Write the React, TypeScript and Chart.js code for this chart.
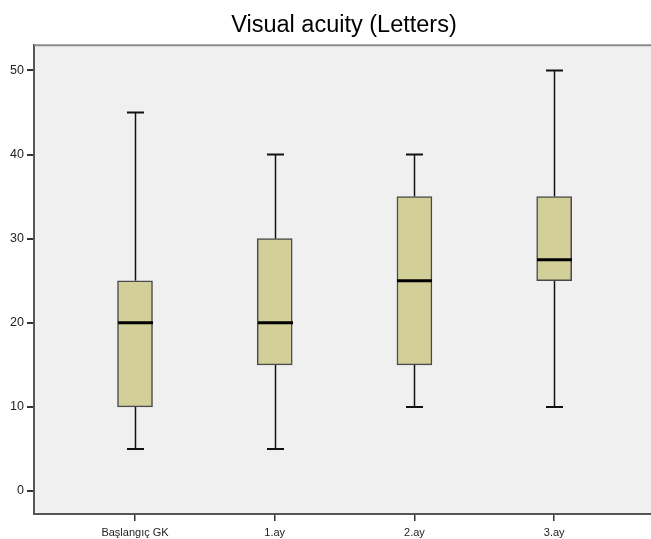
import React, { useEffect, useRef } from "react";
import { Chart, registerables } from "chart.js";

Chart.register(...registerables);

const categories = ["Başlangıç GK", "1.ay", "2.ay", "3.ay"];
const mins = [5, 5, 10, 10];
const q1s = [10, 15, 15, 25];
const medians = [20, 20, 25, 27.5];
const q3s = [25, 30, 35, 35];
const maxs = [45, 40, 40, 50];
const yTicks = [0, 10, 20, 30, 40, 50];

const FONT = "'Liberation Sans', Arial, sans-serif";

const boxPlugin = {
  id: "boxExtras",
  beforeDraw(chart: any) {
    const { ctx, chartArea } = chart;
    ctx.save();
    ctx.fillStyle = "#f0f0f0";
    ctx.fillRect(chartArea.left, chartArea.top, chartArea.right - chartArea.left, chartArea.bottom - chartArea.top);
    ctx.restore();
  },
  beforeDatasetsDraw(chart: any) {
    const { ctx, scales } = chart;
    const x = scales.x;
    const y = scales.y;
    ctx.save();
    ctx.strokeStyle = "#111";
    categories.forEach((_, i) => {
      const cx = Math.round(x.getPixelForValue(i + 1)) + 0.5;
      ctx.lineWidth = 1.5;
      ctx.beginPath();
      ctx.moveTo(cx, y.getPixelForValue(maxs[i]));
      ctx.lineTo(cx, y.getPixelForValue(q3s[i]));
      ctx.moveTo(cx, y.getPixelForValue(q1s[i]));
      ctx.lineTo(cx, y.getPixelForValue(mins[i]));
      ctx.stroke();
      ctx.lineWidth = 2;
      ctx.beginPath();
      const half = 8.5;
      ctx.moveTo(cx - half, y.getPixelForValue(maxs[i]));
      ctx.lineTo(cx + half, y.getPixelForValue(maxs[i]));
      ctx.moveTo(cx - half, y.getPixelForValue(mins[i]));
      ctx.lineTo(cx + half, y.getPixelForValue(mins[i]));
      ctx.stroke();
    });
    ctx.restore();
  },
  afterDatasetsDraw(chart: any) {
    const { ctx, scales, chartArea } = chart;
    const x = scales.x;
    const y = scales.y;
    ctx.save();
    ctx.strokeStyle = "#000";
    ctx.lineWidth = 3;
    categories.forEach((_, i) => {
      const cx = Math.round(x.getPixelForValue(i + 1)) + 0.5;
      const py = y.getPixelForValue(medians[i]);
      ctx.beginPath();
      ctx.moveTo(cx - 17.5, py);
      ctx.lineTo(cx + 17.5, py);
      ctx.stroke();
    });
    ctx.strokeStyle = "#8a8a8a";
    ctx.lineWidth = 2;
    ctx.beginPath();
    ctx.moveTo(chartArea.left, chartArea.top);
    ctx.lineTo(chartArea.right, chartArea.top);
    ctx.stroke();
    ctx.restore();
  },
};

export default function App() {
  const ref = useRef<HTMLCanvasElement>(null);
  useEffect(() => {
    if (!ref.current) return;
    const chart = new Chart(ref.current, {
      type: "bar",
      data: {
        datasets: [
          {
            data: categories.map((_, i) => ({ x: i + 1, y: [q1s[i], q3s[i]] })) as any,
            backgroundColor: "#d3cf98",
            borderColor: "#4a4a4a",
            borderWidth: 1.5,
            borderSkipped: false,
            barThickness: 35,
          },
        ],
      },
      plugins: [boxPlugin],
      options: {
        animation: false,
        responsive: false,
        maintainAspectRatio: false,
        layout: { padding: 0 },
        plugins: {
          legend: { display: false },
          tooltip: { enabled: false },
          title: {
            display: true,
            text: "Visual acuity (Letters)",
            color: "#000",
            font: { family: FONT, size: 23.5, weight: "normal", lineHeight: 1.2 },
            padding: { top: 11, bottom: 6 },
          },
        },
        scales: {
          x: {
            type: "linear",
            min: 0.277,
            max: 4.958,
            offset: false,
            afterBuildTicks: (s: any) => {
              s.ticks = categories.map((_, i) => ({ value: i + 1 }));
            },
            afterFit: (s: any) => {
              s.height = 25;
            },
            ticks: {
              autoSkip: false,
              maxRotation: 0,
              padding: 5,
              color: "#222",
              font: { family: FONT, size: 11 },
              callback: (v: any) => categories[Math.round(v) - 1] ?? "",
            },
            grid: { offset: false, drawOnChartArea: false, drawTicks: true, tickLength: 7, color: "#333", lineWidth: 1.5 },
            border: { display: true, color: "#555", width: 2 },
          },
          y: {
            type: "linear",
            min: -2.73,
            max: 53,
            afterBuildTicks: (s: any) => {
              s.ticks = yTicks.map((v) => ({ value: v }));
            },
            afterFit: (s: any) => {
              s.width = 34;
            },
            ticks: {
              padding: 3,
              color: "#222",
              font: { family: FONT, size: 12.5 },
              callback: (v: any) => String(v),
            },
            grid: { drawOnChartArea: false, drawTicks: true, tickLength: 7, color: "#333", lineWidth: 2 },
            border: { display: true, color: "#555", width: 2 },
          },
        },
      },
    });
    return () => chart.destroy();
  }, []);
  return (
    <div style={{ position: "fixed", left: 0, top: 0, width: 651, height: 539, overflow: "hidden", background: "#fff" }}>
      <canvas ref={ref} width={688} height={539} style={{ width: 688, height: 539, display: "block" }} />
    </div>
  );
}
